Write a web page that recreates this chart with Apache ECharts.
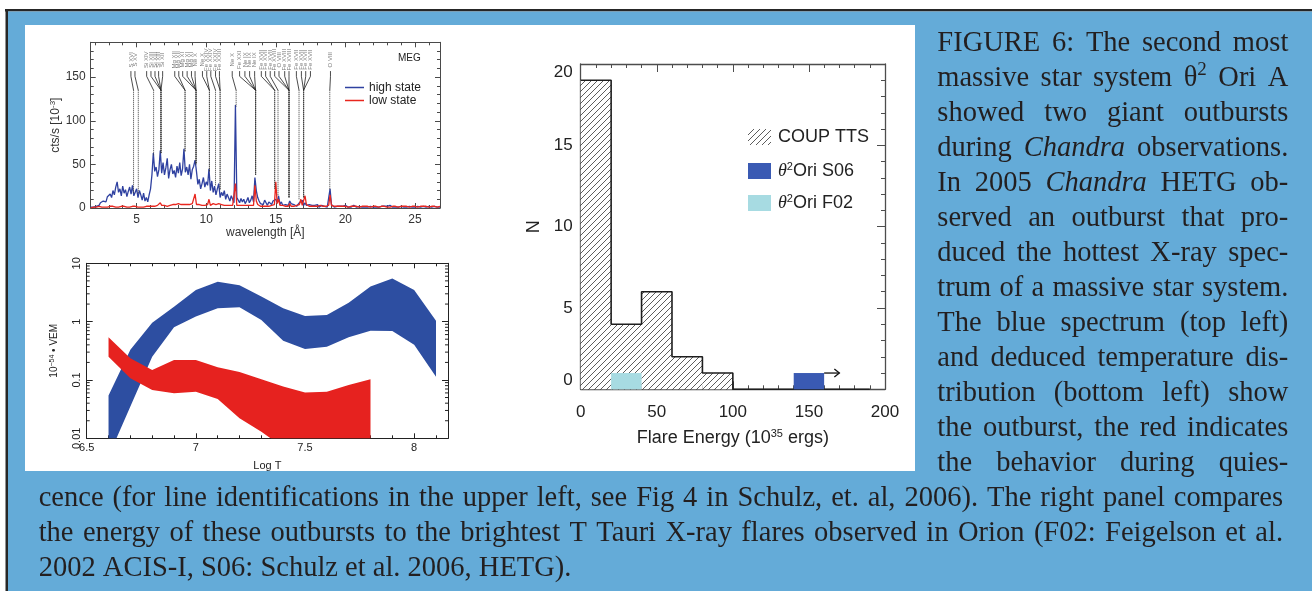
<!DOCTYPE html>
<html>
<head>
<meta charset="utf-8">
<title>θ² Ori A outbursts</title>
<script src="https://cdn.jsdelivr.net/npm/echarts@6/dist/echarts.min.js"></script>
<style>
html,body{margin:0;padding:0;background:#fff;}
#chart{width:1312px;height:591px;}
</style>
</head>
<body>
<div id="chart"></div>
<script>
// ---------------- MEG spectrum (counts/s in 1e-3), sampled every 0.1 Å ----------------
const wavelengthStart = 1.7;
const wavelengthStep = 0.1;
const highState = [
  1,2,1,3,2,4,3,6,5,8,
  10,7,13,11,16,12,20,15,24,30,
  18,22,14,25,17,21,13,19,24,16,
  26,14,18,22,12,20,15,9,17,8,
  12,7,15,22,38,63,42,47,36,44,
  66,40,52,38,46,57,34,44,50,39,
  43,35,48,40,52,37,45,68,41,47,
  38,50,33,44,48,55,42,27,33,22,
  28,35,24,30,26,45,20,31,18,25,
  15,22,28,12,18,14,20,10,16,12,
  8,14,10,6,118,12,9,6,11,7,
  10,5,8,12,6,9,14,7,35,20,
  12,8,5,7,4,9,6,3,7,5,
  4,8,6,10,6,14,4,7,3,5,
  4,6,3,8,5,3,4,6,2,4,
  6,4,9,3,6,3,1,4,2,3,
  1,3,2,4,1,2,3,1,2,2,
  1,3,22,4,2,1,3,2,1,2,
  1,2,1,3,2,1,2,1,1,3,
  2,1,1,2,3,1,2,1,2,1,
  3,2,1,1,2,1,2,1,1,2,
  1,2,1,2,1,3,1,1,2,1,
  2,1,1,2,1,1,2,1,1,2,
  1,1,2,1,1,2,1,1,1,2,
  1,1,1,2,1,1,1,2,1,1,
  1,1
];
const lowState = [
  0,1,1,0,1,1,2,1,1,2,
  1,2,1,1,2,1,2,1,1,2,
  1,1,2,1,2,1,1,2,1,2,
  2,1,2,1,1,2,1,2,1,1,
  2,1,2,1,2,3,2,4,3,4,
  6,3,4,3,5,2,4,3,3,4,
  3,4,2,5,3,4,3,4,3,4,
  3,4,3,5,6,16,4,3,4,3,
  3,4,3,5,4,10,3,4,5,3,
  4,3,5,3,4,2,3,4,3,2,
  3,2,3,4,28,3,2,3,2,3,
  2,3,2,3,2,3,4,3,26,8,
  4,3,2,3,2,3,2,3,2,2,
  3,2,4,30,5,10,3,2,3,2,
  2,3,2,5,2,3,2,2,3,2,
  4,10,3,3,14,4,2,2,3,2,
  2,2,3,2,2,3,2,2,3,2,
  2,3,15,3,2,2,3,2,2,2,
  2,2,1,2,2,1,2,2,1,2,
  1,2,2,1,2,2,1,2,3,2,
  2,1,2,2,1,2,2,1,2,2,
  1,2,2,1,2,1,2,2,1,2,
  2,1,2,2,1,2,1,2,2,1,
  2,2,1,2,2,1,2,2,1,2,
  1,2,2,1,2,2,1,2,2,1,
  2,2
];

// line identifications: dotted marker wavelengths and where each marker stops
const idTargetWl   = [4.78, 5.12, 6.22, 6.75, 8.48, 9.27, 10.23, 10.67, 11.0, 12.15, 13.55, 14.92, 15.16, 15.95, 16.67, 17.0, 18.88];
const idTargetStop = [17, 17, 60, 63, 65, 50, 42, 25, 21, 116, 38, 22, 14, 12, 10, 12, 21];
// ion labels: position along the top, which marker they lead to, and the ion name
const idLabelWl = [4.59, 4.88, 5.72, 6.03, 6.32, 6.58, 6.87, 7.74, 8.03, 8.31, 8.63, 8.94, 9.20,
  9.73, 10.04, 10.33, 10.67, 10.95, 11.87, 12.40, 12.78, 13.12, 13.48,
  13.96, 14.27, 14.60, 14.92, 15.23, 15.64, 15.95, 16.48, 16.84, 17.15, 17.49, 18.93];
const idLabelTarget = [0,1, 2,3,3,3,3, 4,4,5,5,5,5, 6,6,7,8,8, 9, 10,10,10,10,
  11,11,12,13,13,13,13, 14,15,15,15, 16];
const idLabelName = ['S XVI','S XV','Si XIV','Si XIII','Si XIII','Si XIII','Si XII',
  'Mg XII','Mg XII','Mg XI','Mg XI','Mg XI','Ne X','Ne X','Fe XXIV','Fe XXIV','Fe XXIV','Fe XXIII',
  'Ne X','Fe XXI','Ne IX','Ne IX','Ne IX','Fe XVII','Fe XVII','Fe XVII','Fe XVIII','O VIII',
  'Fe XVIII','Fe XVIII','Fe XVII','Fe XVII','Fe XVII','Fe XVII','O VIII'];
// leader geometry in count units: label centre, top of leader, bend, join with dotted marker
const ID_TEXT = 170, ID_TOP = 157, ID_BEND = 151, ID_JOIN = 135;

// ---------------- emission measure distribution (1e-54 VEM) ----------------
const demHighT  = [6.6, 6.7, 6.8, 6.9, 7.0, 7.1, 7.2, 7.3, 7.4, 7.5, 7.6, 7.7, 7.8, 7.9, 8.0, 8.1];
const demHighLo = [0.0049, 0.035, 0.25, 0.8, 1.22, 1.7, 1.76, 1.07, 0.47, 0.34, 0.37, 0.54, 0.7, 0.69, 0.4, 0.114];
const demHighHi = [0.054, 0.33, 0.96, 1.8, 3.5, 4.85, 4.2, 2.7, 1.7, 1.25, 1.3, 2.1, 4.0, 5.5, 3.5, 1.04];
const demLowT   = [6.6, 6.7, 6.8, 6.9, 7.0, 7.1, 7.2, 7.3, 7.4, 7.5, 7.6, 7.7, 7.8];
const demLowLo  = [0.25, 0.107, 0.067, 0.059, 0.063, 0.047, 0.022, 0.013, 0.007, 0.005, 0.005, 0.005, 0.005];
const demLowHi  = [0.54, 0.235, 0.148, 0.22, 0.22, 0.165, 0.137, 0.103, 0.077, 0.061, 0.063, 0.082, 0.103];
const demMinorTicks = [0.02,0.03,0.04,0.05,0.06,0.07,0.08,0.09, 0.2,0.3,0.4,0.5,0.6,0.7,0.8,0.9, 2,3,4,5,6,7,8,9];

// ---------------- flare energy histogram (1e35 ergs) ----------------
const histEdges = [0, 20, 40, 60, 80, 100];
const coupCounts = [19, 4, 6, 2, 1];
const histBaselineEnd = 190;
const s06Bin = [140, 160], s06Count = 1, s06ArrowTip = 170;
const f02Bin = [20, 40], f02Count = 1;

// ---------------- caption ----------------
const captionSide = [
  'FIGURE 6: The second most',
  'massive star system θ^2 Ori A',
  'showed two giant outbursts',
  'during _Chandra_ observations.',
  'In 2005 _Chandra_ HETG ob-',
  'served an outburst that pro-',
  'duced the hottest X-ray spec-',
  'trum of a massive star system.',
  'The blue spectrum (top left)',
  'and deduced temperature dis-',
  'tribution (bottom left) show',
  'the outburst, the red indicates',
  'the behavior during quies-'
];
const captionBottom = [
  'cence (for line identifications in the upper left, see Fig 4 in Schulz, et. al, 2006). The right panel compares',
  'the energy of these outbursts to the brightest T Tauri X-ray flares observed in Orion (F02: Feigelson et al.',
  '2002 ACIS-I, S06: Schulz et al. 2006, HETG).'
];

// =====================================================================
const wavelengths = highState.map((_, i) => +(wavelengthStart + i * wavelengthStep).toFixed(2));
const highSeries = highState.map((v, i) => [wavelengths[i], v]);
const lowSeries = lowState.map((v, i) => [wavelengths[i], v]);

// diagonal hatching tile
const hatchCanvas = document.createElement('canvas');
hatchCanvas.width = 6; hatchCanvas.height = 6;
(function () {
  const g = hatchCanvas.getContext('2d');
  g.fillStyle = '#ffffff'; g.fillRect(0, 0, 6, 6);
  g.strokeStyle = '#333333'; g.lineWidth = 0.8;
  g.beginPath();
  g.moveTo(-1, 7); g.lineTo(7, -1);
  g.moveTo(-1, 1); g.lineTo(1, -1);
  g.moveTo(5, 7); g.lineTo(7, 5);
  g.stroke();
})();
const hatchFill = { type: 'pattern', image: hatchCanvas, repeat: 'repeat' };

const SANS = 'Liberation Sans';
const SPEC_COL = '#4a4a4a', DEM_COL = '#222', HIST_COL = '#4d4d4d';
const nearMultiple = (v, step) => Math.abs(v / step - Math.round(v / step)) < 1e-6;

function frame(color, width) {
  return { show: true, onZero: false, lineStyle: { color: color, width: width } };
}

const xAxes = [
  // spectrum
  { gridIndex: 0, type: 'value', min: 1.7, max: 26.8, splitNumber: 5, position: 'bottom',
    axisLine: frame(SPEC_COL, 1), splitLine: { show: false },
    axisTick: { inside: true, length: 5, lineStyle: { color: SPEC_COL } },
    minorTick: { show: true, splitNumber: 5, length: 3, lineStyle: { color: SPEC_COL } },
    axisLabel: { fontSize: 12, fontFamily: SANS, color: '#333', margin: 6,
      formatter: v => nearMultiple(v, 5) ? String(v) : '' },
    name: 'wavelength [Å]', nameLocation: 'middle', nameGap: 18,
    nameTextStyle: { fontSize: 12, fontFamily: SANS, color: '#333' } },
  { gridIndex: 0, type: 'value', min: 1.7, max: 26.8, splitNumber: 5, position: 'top',
    axisLine: frame(SPEC_COL, 1), splitLine: { show: false }, axisLabel: { show: false },
    axisTick: { inside: true, length: 5, lineStyle: { color: SPEC_COL } },
    minorTick: { show: true, splitNumber: 5, length: 3, lineStyle: { color: SPEC_COL } } },
  // emission measure
  { gridIndex: 1, type: 'value', min: 6.5, max: 8.155, interval: 0.5, position: 'bottom',
    axisLine: frame(DEM_COL, 1), splitLine: { show: false },
    axisTick: { inside: true, length: 5, lineStyle: { color: DEM_COL } },
    minorTick: { show: true, splitNumber: 5, length: 3, lineStyle: { color: DEM_COL } },
    axisLabel: { fontSize: 11, fontFamily: SANS, color: '#222', margin: 4,
      formatter: v => (nearMultiple(v, 0.5) && v <= 8) ? String(v) : '' },
    name: 'Log T', nameLocation: 'middle', nameGap: 22,
    nameTextStyle: { fontSize: 11, fontFamily: SANS, color: '#222' } },
  { gridIndex: 1, type: 'value', min: 6.5, max: 8.155, interval: 0.5, position: 'top',
    axisLine: frame(DEM_COL, 1), splitLine: { show: false }, axisLabel: { show: false },
    axisTick: { inside: true, length: 5, lineStyle: { color: DEM_COL } },
    minorTick: { show: true, splitNumber: 5, length: 3, lineStyle: { color: DEM_COL } } },
  // histogram
  { gridIndex: 2, type: 'value', min: 0, max: 200, interval: 50, position: 'bottom',
    axisLine: frame(HIST_COL, 1.3), splitLine: { show: false },
    axisTick: { inside: true, length: 8, lineStyle: { color: HIST_COL } },
    minorTick: { show: true, splitNumber: 5, length: 4, lineStyle: { color: HIST_COL } },
    axisLabel: { fontSize: 17, fontFamily: SANS, color: '#222', margin: 15 },
    name: '{a|Flare Energy (10}{s|35}{a| ergs)}', nameLocation: 'middle', nameGap: 39,
    nameTextStyle: { rich: {
      a: { fontSize: 18, fontFamily: SANS, color: '#222', lineHeight: 20 },
      s: { fontSize: 11, fontFamily: SANS, color: '#222', verticalAlign: 'top', lineHeight: 11 } } } },
  { gridIndex: 2, type: 'value', min: 0, max: 200, interval: 50, position: 'top',
    axisLine: frame(HIST_COL, 1.3), splitLine: { show: false }, axisLabel: { show: false },
    axisTick: { inside: true, length: 8, lineStyle: { color: HIST_COL } },
    minorTick: { show: true, splitNumber: 5, length: 4, lineStyle: { color: HIST_COL } } }
];

const yAxes = [
  // spectrum
  { gridIndex: 0, type: 'value', min: 0, max: 190, interval: 50, position: 'left',
    axisLine: frame(SPEC_COL, 1), splitLine: { show: false },
    axisTick: { inside: true, length: 5, lineStyle: { color: SPEC_COL } },
    minorTick: { show: true, splitNumber: 5, length: 3, lineStyle: { color: SPEC_COL } },
    axisLabel: { fontSize: 12, fontFamily: SANS, color: '#333', margin: 5,
      formatter: v => nearMultiple(v, 50) ? String(v) : '' },
    name: '{a|cts/s [10}{s|-3}{a|]}', nameLocation: 'middle', nameRotate: 90, nameGap: 28,
    nameTextStyle: { rich: {
      a: { fontSize: 12, fontFamily: SANS, color: '#333', lineHeight: 14 },
      s: { fontSize: 8, fontFamily: SANS, color: '#333', verticalAlign: 'top', lineHeight: 8 } } } },
  { gridIndex: 0, type: 'value', min: 0, max: 190, interval: 50, position: 'right',
    axisLine: frame(SPEC_COL, 1), splitLine: { show: false }, axisLabel: { show: false },
    axisTick: { inside: true, length: 5, lineStyle: { color: SPEC_COL } },
    minorTick: { show: true, splitNumber: 5, length: 3, lineStyle: { color: SPEC_COL } } },
  // emission measure (log)
  { gridIndex: 1, type: 'log', logBase: 10, min: 0.01, max: 10, position: 'left',
    axisLine: frame(DEM_COL, 1), splitLine: { show: false },
    axisTick: { inside: true, length: 6, lineStyle: { color: DEM_COL } },
    axisLabel: { fontSize: 11, fontFamily: SANS, color: '#222', margin: 4, rotate: 90 },
    name: '{a|10}{s|−54}{a| • VEM}', nameLocation: 'middle', nameRotate: 90, nameGap: 26,
    nameTextStyle: { rich: {
      a: { fontSize: 10, fontFamily: SANS, color: '#222', lineHeight: 12 },
      s: { fontSize: 7, fontFamily: SANS, color: '#222', verticalAlign: 'top', lineHeight: 7 } } } },
  { gridIndex: 1, type: 'log', logBase: 10, min: 0.01, max: 10, position: 'right',
    axisLine: frame(DEM_COL, 1), splitLine: { show: false }, axisLabel: { show: false },
    axisTick: { inside: true, length: 6, lineStyle: { color: DEM_COL } } },
  // histogram
  { gridIndex: 2, type: 'value', min: 0, max: 20, interval: 5, position: 'left',
    axisLine: frame(HIST_COL, 1.3), splitLine: { show: false },
    axisTick: { inside: true, length: 8, lineStyle: { color: HIST_COL } },
    minorTick: { show: true, splitNumber: 5, length: 4, lineStyle: { color: HIST_COL } },
    axisLabel: { fontSize: 17, fontFamily: SANS, color: '#222', margin: 8,
      verticalAlignMinLabel: 'bottom', verticalAlignMaxLabel: 'top' },
    name: 'N', nameLocation: 'middle', nameRotate: 90, nameGap: 38,
    nameTextStyle: { fontSize: 18, fontFamily: SANS, color: '#222' } },
  { gridIndex: 2, type: 'value', min: 0, max: 20, interval: 5, position: 'right',
    axisLine: frame(HIST_COL, 1.3), splitLine: { show: false }, axisLabel: { show: false },
    axisTick: { inside: true, length: 8, lineStyle: { color: HIST_COL } },
    minorTick: { show: true, splitNumber: 5, length: 4, lineStyle: { color: HIST_COL } } }
];

// band polygon between lower and upper curves, clipped to its grid
function bandRenderer(tArr, loArr, hiArr, color) {
  return function (params, api) {
    if (params.dataIndex !== 0) return null;
    const pts = [];
    for (let i = 0; i < tArr.length; i++) pts.push(api.coord([tArr[i], hiArr[i]]));
    for (let i = tArr.length - 1; i >= 0; i--) pts.push(api.coord([tArr[i], loArr[i]]));
    const cs = params.coordSys;
    return {
      type: 'polygon', shape: { points: pts }, style: { fill: color, stroke: null },
      clipPath: { type: 'rect', shape: { x: cs.x, y: cs.y, width: cs.width, height: cs.height } }
    };
  };
}

function rectRenderer(fill) {
  return function (params, api) {
    const p0 = api.coord([api.value(0), api.value(2)]);
    const p1 = api.coord([api.value(1), 0]);
    return { type: 'rect', shape: { x: p0[0], y: p0[1], width: p1[0] - p0[0], height: p1[1] - p0[1] },
      style: { fill: fill, stroke: null } };
  };
}

const series = [
  { name: 'high state', type: 'line', xAxisIndex: 0, yAxisIndex: 0, data: highSeries,
    symbol: 'none', lineStyle: { color: '#2f41a0', width: 1.3 }, itemStyle: { color: '#2f41a0' }, z: 3 },
  { name: 'low state', type: 'line', xAxisIndex: 0, yAxisIndex: 0, data: lowSeries,
    symbol: 'none', lineStyle: { color: '#e8261e', width: 1.3 }, itemStyle: { color: '#e8261e' }, z: 4 },
  { type: 'custom', coordinateSystem: 'cartesian2d', xAxisIndex: 0, yAxisIndex: 0, z: 5,
    data: idLabelWl.map((w, i) => [w, idTargetWl[idLabelTarget[i]], idTargetStop[idLabelTarget[i]]]),
    renderItem: function (params, api) {
      const lx = api.value(0), tx = api.value(1), stop = api.value(2);
      const t = api.coord([lx, ID_TEXT]);
      const a = api.coord([lx, ID_TOP]), b = api.coord([lx, ID_BEND]);
      const c = api.coord([tx, ID_JOIN]), d = api.coord([tx, stop]);
      return { type: 'group', children: [
        { type: 'text', x: t[0], y: t[1], rotation: Math.PI / 2,
          style: { text: idLabelName[params.dataIndex], font: '6px "Liberation Sans"', fill: '#7a7a7a',
            align: 'center', verticalAlign: 'middle' } },
        { type: 'polyline', shape: { points: [a, b, c] }, style: { stroke: '#1e1e1e', lineWidth: 0.8, fill: null } },
        { type: 'line', shape: { x1: c[0], y1: c[1], x2: d[0], y2: d[1] },
          style: { stroke: '#3a3a3a', lineWidth: 1, lineDash: [1, 1] } }
      ] };
    } },
  // emission measure bands
  { type: 'custom', coordinateSystem: 'cartesian2d', xAxisIndex: 2, yAxisIndex: 2, z: 3,
    data: [[demHighT[0], demHighHi[0]]], renderItem: bandRenderer(demHighT, demHighLo, demHighHi, '#2d4ea1') },
  { type: 'custom', coordinateSystem: 'cartesian2d', xAxisIndex: 2, yAxisIndex: 2, z: 4,
    data: [[demLowT[0], demLowHi[0]]], renderItem: bandRenderer(demLowT, demLowLo, demLowHi, '#e6221f') },
  { type: 'custom', coordinateSystem: 'cartesian2d', xAxisIndex: 2, yAxisIndex: 2, z: 5,
    data: demMinorTicks.map(v => [6.5, v]),
    renderItem: function (params, api) {
      const cs = params.coordSys;
      const y = api.coord([api.value(0), api.value(1)])[1];
      return { type: 'group', children: [
        { type: 'line', shape: { x1: cs.x, y1: y, x2: cs.x + 3, y2: y }, style: { stroke: DEM_COL, lineWidth: 1 } },
        { type: 'line', shape: { x1: cs.x + cs.width - 3, y1: y, x2: cs.x + cs.width, y2: y }, style: { stroke: DEM_COL, lineWidth: 1 } }
      ] };
    } },
  // histogram
  { name: 'COUP TTS', type: 'custom', coordinateSystem: 'cartesian2d', xAxisIndex: 4, yAxisIndex: 4, z: 3,
    itemStyle: { color: hatchFill },
    data: coupCounts.map((n, i) => [histEdges[i], histEdges[i + 1], n]),
    renderItem: rectRenderer(hatchFill) },
  { name: 'F02', type: 'custom', coordinateSystem: 'cartesian2d', xAxisIndex: 4, yAxisIndex: 4, z: 4,
    itemStyle: { color: '#a7dbe2' }, data: [[f02Bin[0], f02Bin[1], f02Count]],
    renderItem: rectRenderer('#a7dbe2') },
  { type: 'line', xAxisIndex: 4, yAxisIndex: 4, step: 'end', symbol: 'none', z: 5,
    lineStyle: { color: '#1e1e1e', width: 1.6 },
    data: coupCounts.map((n, i) => [histEdges[i], n]).concat([[histEdges[histEdges.length - 1], 0], [histBaselineEnd, 0]]) },
  { name: 'S06', type: 'custom', coordinateSystem: 'cartesian2d', xAxisIndex: 4, yAxisIndex: 4, z: 6,
    itemStyle: { color: '#3a5ab3' }, data: [[s06Bin[0], s06Bin[1], s06Count]],
    renderItem: function (params, api) {
      const p0 = api.coord([api.value(0), api.value(2)]);
      const p1 = api.coord([api.value(1), 0]);
      const tip = api.coord([s06ArrowTip, api.value(2)]);
      return { type: 'group', children: [
        { type: 'rect', shape: { x: p0[0], y: p0[1], width: p1[0] - p0[0], height: p1[1] - p0[1] },
          style: { fill: '#3a5ab3' } },
        { type: 'line', shape: { x1: p1[0], y1: p0[1], x2: tip[0], y2: tip[1] }, style: { stroke: '#111', lineWidth: 1.3 } },
        { type: 'polyline', shape: { points: [[tip[0] - 5, tip[1] - 4], tip, [tip[0] - 5, tip[1] + 4]] },
          style: { stroke: '#111', lineWidth: 1.3, fill: null } }
      ] };
    } }
];

// ----- caption typesetting (justified lines) -----
const CAP_SIZE = 28.5, SUP_SIZE = 19, CAP_FAMILY = '"Liberation Serif"', CAP_COLOR = '#231f20';
const measureCtx = document.createElement('canvas').getContext('2d');
function capFont(italic, size) { return (italic ? 'italic ' : '') + size + 'px ' + CAP_FAMILY; }
function textWidth(text, font) { measureCtx.font = font; return measureCtx.measureText(text).width; }
function parseWord(word) {
  const m = word.match(/^_(.+)_(.*)$/);
  if (m) {
    const out = [{ text: m[1], italic: true, sup: false }];
    if (m[2]) out.push({ text: m[2], italic: false, sup: false });
    return out;
  }
  if (word.indexOf('^') >= 0) {
    const parts = word.split('^');
    return [{ text: parts[0], italic: false, sup: false }, { text: parts[1], italic: false, sup: true }];
  }
  return [{ text: word, italic: false, sup: false }];
}
function typesetLine(line, left, right, baseline, justify, out) {
  const words = line.split(' ').map(w => {
    const pieces = parseWord(w).map(p => {
      p.font = capFont(p.italic, p.sup ? SUP_SIZE : CAP_SIZE);
      p.width = textWidth(p.text, p.font);
      return p;
    });
    return { pieces, width: pieces.reduce((s, p) => s + p.width, 0) };
  });
  const total = words.reduce((s, w) => s + w.width, 0);
  const space = textWidth(' ', capFont(false, CAP_SIZE));
  const gap = (justify && words.length > 1) ? (right - left - total) / (words.length - 1) : space;
  let x = left;
  words.forEach(w => {
    let px = x;
    w.pieces.forEach(p => {
      const size = p.sup ? SUP_SIZE : CAP_SIZE;
      const base = p.sup ? baseline - 12 : baseline;
      out.push({ type: 'text', x: px, y: base - 0.3 * size, z: 20, silent: true,
        style: { text: p.text, font: p.font, fill: CAP_COLOR, align: 'left', verticalAlign: 'middle' } });
      px += p.width;
    });
    x += w.width + gap;
  });
}

const graphics = [
  { type: 'rect', z: -10, silent: true, shape: { x: 5, y: 9, width: 1307, height: 2.6 }, style: { fill: '#262626' } },
  { type: 'rect', z: -10, silent: true, shape: { x: 5.5, y: 9, width: 2.6, height: 582 }, style: { fill: '#262626' } },
  { type: 'rect', z: -10, silent: true, shape: { x: 8, y: 11.6, width: 1304, height: 580 }, style: { fill: '#64abd8' } },
  { type: 'rect', z: -9, silent: true, shape: { x: 25, y: 25, width: 890, height: 446 }, style: { fill: '#ffffff' } },
  { type: 'text', z: 10, silent: true, x: 398, y: 58.5,
    style: { text: 'MEG', font: '10px "Liberation Sans"', fill: '#222', verticalAlign: 'middle' } }
];
const CAP_BASE0 = 52.5, CAP_STEP = 35;
captionSide.forEach((line, i) => typesetLine(line, 937.3, 1288.3, CAP_BASE0 + CAP_STEP * i, true, graphics));
captionBottom.forEach((line, i) => typesetLine(line, 38.7, 1283, CAP_BASE0 + CAP_STEP * (captionSide.length + i),
  i < captionBottom.length - 1, graphics));

const histLegendText = {
  'COUP TTS': '{t|COUP TTS}',
  'S06': '{th|θ}{sup|2}{t|Ori S06}',
  'F02': '{th|θ}{sup|2}{t|Ori F02}'
};
const histLegendRich = {
  t: { fontSize: 18, fontFamily: SANS, color: '#222', lineHeight: 20 },
  th: { fontSize: 18, fontFamily: 'Liberation Serif', fontStyle: 'italic', color: '#222', lineHeight: 20 },
  sup: { fontSize: 11, fontFamily: SANS, color: '#222', verticalAlign: 'top', lineHeight: 11 }
};
function histLegend(name, top) {
  return { data: [name], left: 748, top: top, padding: 0, orient: 'vertical', icon: 'rect',
    itemWidth: 23, itemHeight: 16, itemGap: 0, selectedMode: false,
    formatter: n => histLegendText[n], textStyle: { rich: histLegendRich, padding: [0, 0, 0, 2] } };
}

const chart = echarts.init(document.getElementById('chart'), null, { width: 1312, height: 591 });
chart.setOption({
  animation: false,
  backgroundColor: '#ffffff',
  grid: [
    { left: 90.7, top: 42.3, width: 349.3, height: 165.7 },
    { left: 86.7, top: 263.3, width: 361.3, height: 175 },
    { left: 580.7, top: 64, width: 304.3, height: 325.3 }
  ],
  xAxis: xAxes,
  yAxis: yAxes,
  legend: [
    { data: ['high state', 'low state'], left: 345, top: 81, padding: 0, orient: 'vertical',
      icon: 'rect', itemWidth: 19, itemHeight: 1.5, itemGap: 0, selectedMode: false,
      textStyle: { fontSize: 12, fontFamily: SANS, color: '#222', lineHeight: 13 } },
    histLegend('COUP TTS', 128),
    histLegend('S06', 161),
    histLegend('F02', 193)
  ],
  series: series,
  graphic: graphics
});
</script>
</body>
</html>
